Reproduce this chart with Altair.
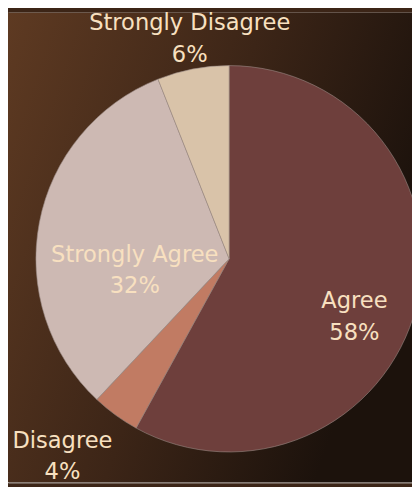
import altair as alt
import pandas as pd

categories = ["Agree", "Disagree", "Strongly Agree", "Strongly Disagree"]
values = [58, 4, 32, 6]
slice_colors = ["#6e3f3c", "#c17b63", "#cdb9b3", "#d9c3a9"]

df = pd.DataFrame({"category": categories, "value": values})

W, H = 412, 479
CX, CY = 225.5, 251
R = 197
TEXT_COLOR = "#f8e0c0"

bg = alt.Chart(pd.DataFrame({"bg": [0]})).mark_rect(
    color={
        "gradient": "linear",
        "x1": 0, "y1": 0, "x2": 1, "y2": 0.4,
        "stops": [
            {"offset": 0, "color": "#5e3a22"},
            {"offset": 0.55, "color": "#3c2517"},
            {"offset": 1, "color": "#1c120c"},
        ],
    }
).encode(x=alt.value(0), x2=alt.value(W), y=alt.value(0), y2=alt.value(H))

base = alt.Chart(df).encode(
    theta=alt.Theta("value:Q", stack=True),
    order=alt.Order("category:N"),
    x=alt.value(CX),
    y=alt.value(CY),
)

pie = base.mark_arc(outerRadius=R, stroke="#9a8a86", strokeWidth=0.6).encode(
    color=alt.Color("category:N",
                    scale=alt.Scale(domain=categories, range=slice_colors),
                    legend=None)
)

# label placement per category: (radius, dx, dy)
placement = {
    "Agree": (135, -3, 10),
    "Disagree": (262, -16, -26),
    "Strongly Agree": (100, 2, 15),
    "Strongly Disagree": (225, 2, -19),
}

labels = []
for cat in categories:
    r, dx, dy = placement[cat]
    t = base.transform_calculate(
        label="datum.category + '\\n' + datum.value + '%'"
    ).mark_text(
        radius=r, dx=dx, dy=dy, font="DejaVu Sans", fontSize=23,
        lineBreak="\n", lineHeight=32, color=TEXT_COLOR,
        align="center", baseline="middle",
    ).encode(
        detail="category:N",
        text=alt.condition(f"datum.category == '{cat}'",
                           alt.Text("label:N"), alt.value("")),
    )
    labels.append(t)

chart = alt.layer(bg, pie, *labels).properties(
    width=W, height=H, padding=0,
    autosize=alt.AutoSizeParams(type="none"),
).configure_view(stroke=None).configure(background="#3c2517")

chart.save("out.html", embed_options={"renderer": "svg", "actions": False})
